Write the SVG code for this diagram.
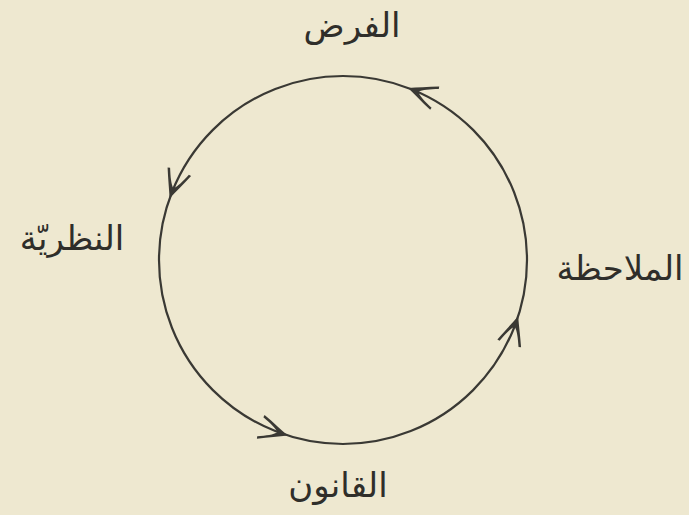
<svg xmlns="http://www.w3.org/2000/svg" xmlns:xlink="http://www.w3.org/1999/xlink" width="689" height="515" viewBox="0 0 689 515">
  <style>
    .bg { fill: #eee8d0; }
    .ring { fill: none; stroke: #3a3934; stroke-width: 2.2; }
    .head { fill: #3a3934; }
    .lbl { font-family: "DejaVu Sans", "Noto Sans", sans-serif; font-size: 34px; fill: #2f2e2a; text-anchor: middle; direction: rtl; }
  </style>
  <defs>
    <path id="ah" class="head" transform="translate(527,260)" d="M0,-1.5 C-3.5,7 -8,16 -12.5,27 L-10,27.5 C-6.5,19 -3.5,12.5 0,9.5 C3.5,12.5 6.5,19 10,27.5 L12.5,27 C8,16 3.5,7 0,-1.5 Z"/>
  </defs>
  <rect class="bg" x="0" y="0" width="689" height="515"/>
  <g id="connectors">
    <circle class="ring" cx="343" cy="260" r="184"/>
    <use xlink:href="#ah" href="#ah" transform="rotate(-68.8 343 260)"/>
    <use xlink:href="#ah" href="#ah" transform="rotate(200 343 260)"/>
    <use xlink:href="#ah" href="#ah" transform="rotate(107.9 343 260)"/>
    <use xlink:href="#ah" href="#ah" transform="rotate(18.3 343 260)"/>
  </g>
  <g id="hypothesis"><text class="lbl" x="352" y="37">الفرض</text></g>
  <g id="observation"><text class="lbl" x="620" y="280">الملاحظة</text></g>
  <g id="law"><text class="lbl" x="338" y="497">القانون</text></g>
  <g id="theory"><text class="lbl" x="72" y="250">النظريّة</text></g>
</svg>
